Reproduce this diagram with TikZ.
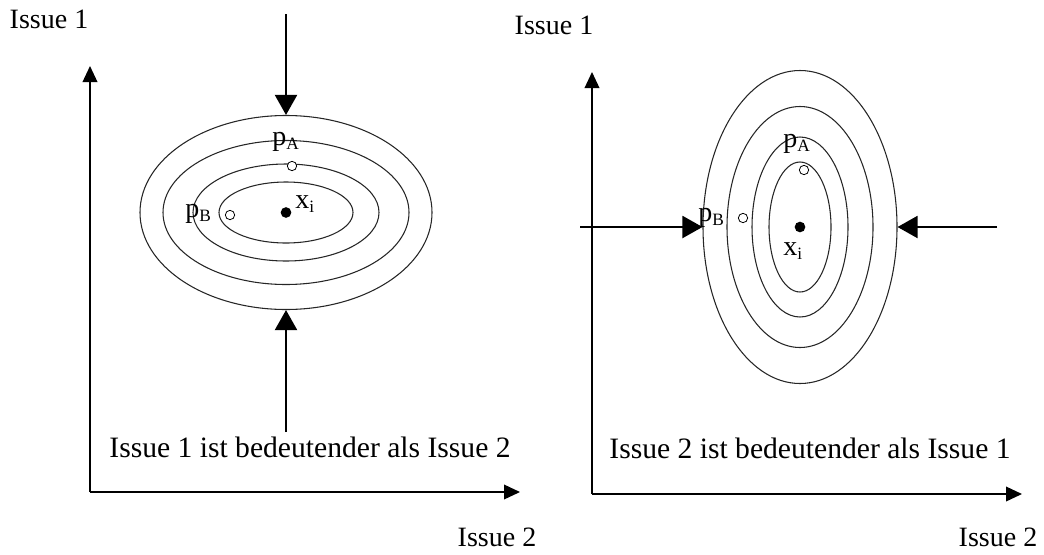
\documentclass[tikz,border=0pt]{standalone}
\usepackage{fontspec}
\setmainfont{Liberation Serif}
\usetikzlibrary{shapes.geometric,arrows.meta}
\newcommand{\lowsub}[1]{\raisebox{-3.5pt}{\fontsize{13}{14}\selectfont #1}}
\begin{document}
\begin{tikzpicture}[x=0.75pt,y=-0.75pt,
 lbl/.style={font=\fontsize{21}{24}\selectfont, inner sep=0},
 note/.style={font=\fontsize{22.2}{25}\selectfont, inner sep=0},
 ring/.style={draw=black!85, line width=0.8pt, ellipse, inner sep=0},
 axis/.style={line width=1.1pt, -{Triangle[length=12pt,width=11pt]}},
 push/.style={line width=1.5pt, -{Triangle[length=15pt,width=16.5pt]}},
 pnt/.style={circle, draw, line width=0.6pt, minimum size=7pt, inner sep=0, fill=white},
 ctr/.style={circle, fill=black, minimum size=8pt, inner sep=0}]
\useasboundingbox (0,0) rectangle (1044,554);

% ---------- left panel ----------
\coordinate (LO) at (90,492);
\coordinate (LYt) at (90,66);
\coordinate (LXt) at (520,492);
\draw[axis] (LO) -- (LYt);
\draw[axis] (LO) -- (LXt);

\node[ring, minimum width=292*0.75pt, minimum height=194*0.75pt] (L1) at (286,212.5) {};
\node[ring, minimum width=246*0.75pt, minimum height=144*0.75pt] (L2) at (286,212.5) {};
\node[ring, minimum width=186*0.75pt, minimum height=97*0.75pt] (L3) at (286,212.5) {};
\node[ring, minimum width=134*0.75pt, minimum height=61*0.75pt] (L4) at (286,212.5) {};

\node[ctr] (Lx) at (286,212.5) {};
\node[pnt] (LpA) at (292,166) {};
\node[pnt] (LpB) at (230,215) {};
\node[lbl, anchor=base west] (LpAl) at (272,145) {p\lowsub{A}};
\node[lbl, anchor=base west] (LpBl) at (185,217) {p\lowsub{B}};
\node[lbl, anchor=base west] (Lxl) at (295,208) {x\lowsub{i}};

\coordinate (Ltop) at (286,14);
\coordinate (Lbot) at (286,432);
\draw[push] (Ltop) -- (L1.north);
\draw[push] (Lbot) -- (L1.south);

\node[lbl] (LI1) at (49,19) {Issue 1};
\node[lbl] (LI2) at (497,537) {Issue 2};
\node[note] (Ltxt) at (310,447) {Issue 1 ist bedeutender als Issue 2};

% ---------- right panel ----------
\coordinate (RO) at (592,494);
\coordinate (RYt) at (592,72);
\coordinate (RXt) at (1022,494);
\draw[axis] (RO) -- (RYt);
\draw[axis] (RO) -- (RXt);

\node[ring, minimum width=194*0.75pt, minimum height=313*0.75pt] (R1) at (800,227) {};
\node[ring, minimum width=146*0.75pt, minimum height=241*0.75pt] (R2) at (800,227) {};
\node[ring, minimum width=96*0.75pt, minimum height=180*0.75pt] (R3) at (800,227) {};
\node[ring, minimum width=62*0.75pt, minimum height=130*0.75pt] (R4) at (800,227) {};

\node[ctr] (Rx) at (800,227) {};
\node[pnt] (RpA) at (804,170) {};
\node[pnt] (RpB) at (743,218) {};
\node[lbl, anchor=base west] (RpAl) at (783,147) {p\lowsub{A}};
\node[lbl, anchor=base west] (RpBl) at (698,221) {p\lowsub{B}};
\node[lbl, anchor=base west] (Rxl) at (783,255) {x\lowsub{i}};

\coordinate (Rl) at (580,227);
\coordinate (Rr) at (997,227);
\draw[push] (Rl) -- (R1.west);
\draw[push] (Rr) -- (R1.east);

\node[lbl] (RI1) at (554,25) {Issue 1};
\node[lbl] (RI2) at (998,537) {Issue 2};
\node[note] (Rtxt) at (810,448) {Issue 2 ist bedeutender als Issue 1};
\end{tikzpicture}
\end{document}
